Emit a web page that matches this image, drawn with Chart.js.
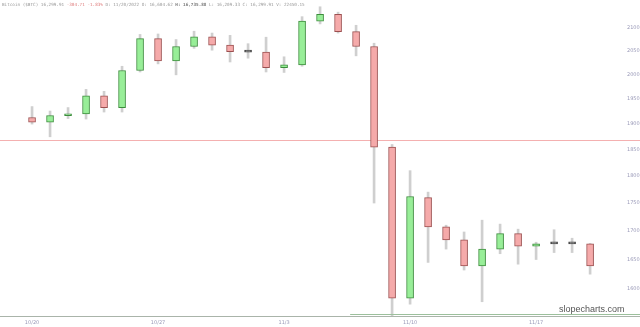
<!DOCTYPE html>
<html>
<head>
<meta charset="utf-8">
<script src="https://cdn.jsdelivr.net/npm/chart.js@4/dist/chart.umd.min.js"></script>
<style>
  html, body { margin: 0; padding: 0; background: #fff; }
  #wrap { position: relative; width: 640px; height: 327px; }
  #head { position: absolute; left: 2px; top: 2px; font: 4.3px "DejaVu Sans Mono", monospace; color: #999; white-space: pre; }
  #head .dn { color: #e08080; }
  #head b { color: #777; }
</style>
</head>
<body>
<div id="wrap">
  <canvas id="c" width="640" height="327"></canvas>
  <div id="head">Bitcoin ($BTC) 16,299.91 <span class="dn">-304.71 -1.83%</span> D: 11/20/2022 O: 16,604.62 <b>H: 16,735.88</b> L: 16,209.33 C: 16,299.91 V: 22450.15</div>
</div>
<script>
// daily candles, 10/20 .. 11/20
const dates = ['10/20','10/21','10/22','10/23','10/24','10/25','10/26','10/27','10/28','10/29','10/30','10/31',
  '11/1','11/2','11/3','11/4','11/5','11/6','11/7','11/8','11/9','11/10','11/11','11/12','11/13','11/14',
  '11/15','11/16','11/17','11/18','11/19','11/20'];
const opens  = [19130,19040,19165,19200,19570,19330,20090,20770,20290,20600,20810,20630,20490,20480,20150,20210,
  21150,21300,20920,20600,18550,15850,17600,17070,16840,16390,16680,16950,16730,16770,16775,16770];
const highs  = [19350,19260,19330,19700,19660,20180,20860,20870,20750,20930,20890,20840,20660,20800,20380,21250,
  21470,21350,21060,20670,18600,18100,17700,17100,16980,17190,17120,17030,16800,17020,16870,16780];
const lows   = [19000,18750,19110,19100,19240,19240,20060,20230,20000,20560,20520,20270,20350,20060,20050,20180,
  21090,20890,20400,17500,15560,15750,16450,16680,16320,15790,16600,16420,16500,16620,16620,16250];
const closes = [19040,19170,19200,19570,19330,20090,20770,20290,20600,20810,20630,20490,20480,20150,20210,21150,
  21300,20920,20600,18550,15850,17620,17070,16840,16390,16680,16950,16730,16770,16775,16770,16390];
const xTickIdx = [0,7,14,21,28];
const yTicks = [16000,16500,17000,17500,18000,18500,19000,19500,20000,20500,21000];
const redLevel = 18690;
const greenLevel = 15590;

const bodyColor = dates.map((d,i) => {
  if (Math.abs(closes[i]-opens[i]) / opens[i] < 0.001) return '#666';
  return closes[i] > opens[i] ? '#98ee98' : '#f5aaaa';
});
const bodyBorder = dates.map((d,i) => {
  if (Math.abs(closes[i]-opens[i]) / opens[i] < 0.001) return '#444';
  return closes[i] > opens[i] ? '#3c8c3c' : '#9c5050';
});

const levels = {
  id: 'levels',
  beforeDatasetsDraw(chart) {
    const {ctx, scales: {x, y}} = chart;
    ctx.save();
    ctx.lineWidth = 1;
    // red level line, full width
    let yy = Math.round(y.getPixelForValue(redLevel)) + 0.5;
    ctx.strokeStyle = '#f4b0b0';
    ctx.beginPath(); ctx.moveTo(0, yy); ctx.lineTo(640, yy); ctx.stroke();
    ctx.restore();
  },
  afterDatasetsDraw(chart) {
    const {ctx, scales: {x, y}, chartArea} = chart;
    ctx.save();
    ctx.lineWidth = 1;
    let yy = Math.round(y.getPixelForValue(greenLevel)) + 0.5;
    ctx.strokeStyle = '#9cc09c';
    ctx.beginPath(); ctx.moveTo(x.getPixelForValue(17.67), yy); ctx.lineTo(640, yy); ctx.stroke();
    // bottom axis line
    let by = chartArea.bottom + 0.5;
    ctx.strokeStyle = '#aab4aa';
    ctx.beginPath(); ctx.moveTo(0, by); ctx.lineTo(640, by); ctx.stroke();
    ctx.fillStyle = '#555';
    ctx.font = '9px "Liberation Sans", Arial, sans-serif';
    ctx.textAlign = 'left';
    ctx.fillText('slopecharts.com', 559, 312);
    ctx.restore();
  }
};

new Chart(document.getElementById('c'), {
  type: 'bar',
  data: {
    datasets: [
      {
        label: 'body',
        data: dates.map((d,i) => ({x: i, y: [opens[i], closes[i]]})),
        backgroundColor: bodyColor,
        borderColor: bodyBorder,
        borderWidth: 1,
        borderSkipped: false,
        barThickness: 7,
        minBarLength: 2,
        order: 0
      },
      {
        label: 'wick',
        data: dates.map((d,i) => ({x: i, y: [lows[i], highs[i]]})),
        backgroundColor: '#cfcfcf',
        borderWidth: 0,
        barThickness: 2,
        order: 1
      }
    ]
  },
  options: {
    responsive: false,
    animation: false,
    maintainAspectRatio: false,
    layout: { padding: 0 },
    plugins: { legend: { display: false }, tooltip: { enabled: false } },
    datasets: { bar: { grouped: false } },
    scales: {
      x: {
        type: 'linear',
        offset: false,
        min: -1.78,
        max: 32.55,
        grid: { display: false, drawTicks: false },
        border: { display: false },
        afterFit(s) { s.height = 11; s.paddingLeft = 0; s.paddingRight = 0; },
        afterBuildTicks(s) { s.ticks = xTickIdx.map(v => ({value: v})); },
        ticks: {
          font: { size: 5, family: 'DejaVu Sans' },
          color: '#9a9ab8',
          padding: 4,
          maxRotation: 0,
          autoSkip: false,
          callback: v => dates[v]
        }
      },
      y: {
        type: 'logarithmic',
        position: 'right',
        min: 15557,
        max: 21622,
        grid: { display: false, drawTicks: false },
        border: { display: false },
        afterFit(s) { s.width = 22; s.paddingTop = 0; s.paddingBottom = 0; },
        afterBuildTicks(s) { s.ticks = yTicks.map(v => ({value: v})); },
        ticks: {
          font: { size: 5, family: 'DejaVu Sans' },
          color: '#9a9ab8',
          padding: 9,
          autoSkip: false,
          callback: v => String(v)
        }
      }
    }
  },
  plugins: [levels]
});
</script>
</body>
</html>
